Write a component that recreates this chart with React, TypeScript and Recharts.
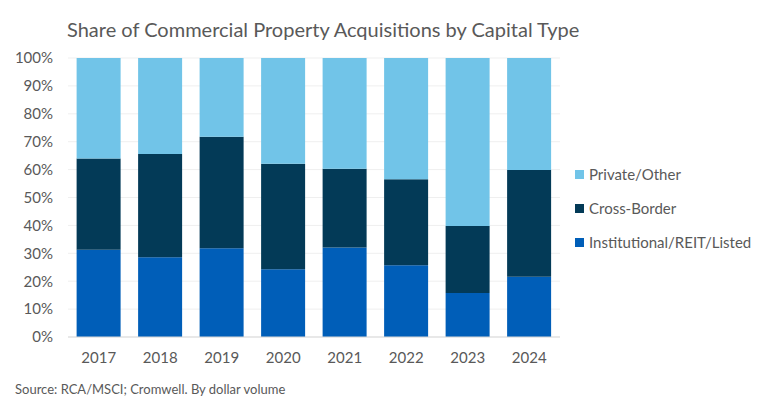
import { BarChart, Bar, XAxis, YAxis, CartesianGrid, Legend } from "recharts";

const years = ["2017", "2018", "2019", "2020", "2021", "2022", "2023", "2024"];
const institutional = [31.3, 28.6, 31.8, 24.3, 32.1, 25.7, 15.8, 21.6];
const crossBorder = [32.7, 37.0, 40.0, 37.8, 28.2, 30.8, 24.0, 38.3];
const privateOther = [36.0, 34.4, 28.2, 37.9, 39.7, 43.5, 60.2, 40.1];
const yTicks = [0, 10, 20, 30, 40, 50, 60, 70, 80, 90, 100];

const series = [
  { key: "institutional", name: "Institutional/REIT/Listed", color: "#005EB8" },
  { key: "crossBorder", name: "Cross-Border", color: "#033A57" },
  { key: "privateOther", name: "Private/Other", color: "#71C4E8" },
];

const data = years.map((year, i) => ({
  year,
  institutional: institutional[i],
  crossBorder: crossBorder[i],
  privateOther: privateOther[i],
}));

const FONT = "Lato, 'Open Sans', sans-serif";
const GREY = "#595959";

const LegendBox = () => (
  <div style={{ paddingLeft: 15, fontFamily: FONT, fontSize: 15, color: GREY }}>
    {[...series].reverse().map((s) => (
      <div key={s.key} style={{ display: "flex", alignItems: "center", height: 34 }}>
        <span style={{ width: 9, height: 9, background: s.color, marginRight: 5, display: "inline-block" }} />
        <span>{s.name}</span>
      </div>
    ))}
  </div>
);

export default function App() {
  return (
    <div style={{ position: "absolute", left: 0, top: 0, width: 770, height: 397, background: "#fff" }}>
      <div style={{ position: "absolute", left: 67, top: 17, fontFamily: FONT, fontSize: 20, color: GREY, whiteSpace: "nowrap" }}>
        Share of Commercial Property Acquisitions by Capital Type
      </div>
      <BarChart
        width={770}
        height={397}
        data={data}
        margin={{ top: 58, right: 10, left: 0, bottom: 0 }}
        barCategoryGap="14%"
      >
        <CartesianGrid vertical={false} stroke="#EFEFEF" />
        <XAxis
          dataKey="year"
          height={60}
          tickLine={false}
          axisLine={{ stroke: "#D9D9D9" }}
          tickMargin={9}
          tick={{ fill: GREY, fontSize: 15, fontFamily: FONT }}
        />
        <YAxis
          width={68}
          domain={[0, 100]}
          ticks={yTicks}
          tickFormatter={(v) => `${v}%`}
          axisLine={false}
          tickLine={false}
          tickMargin={9}
          tick={{ fill: GREY, fontSize: 15, fontFamily: FONT }}
        />
        <Legend
          layout="vertical"
          align="right"
          verticalAlign="middle"
          wrapperStyle={{ width: 200, top: 157 }}
          content={() => <LegendBox />}
        />
        {series.map((s) => (
          <Bar key={s.key} dataKey={s.key} name={s.name} stackId="a" fill={s.color} isAnimationActive={false} />
        ))}
      </BarChart>
      <div style={{ position: "absolute", left: 15, top: 381, fontFamily: FONT, fontSize: 13, color: GREY, whiteSpace: "nowrap" }}>
        Source: RCA/MSCI; Cromwell. By dollar volume
      </div>
    </div>
  );
}
